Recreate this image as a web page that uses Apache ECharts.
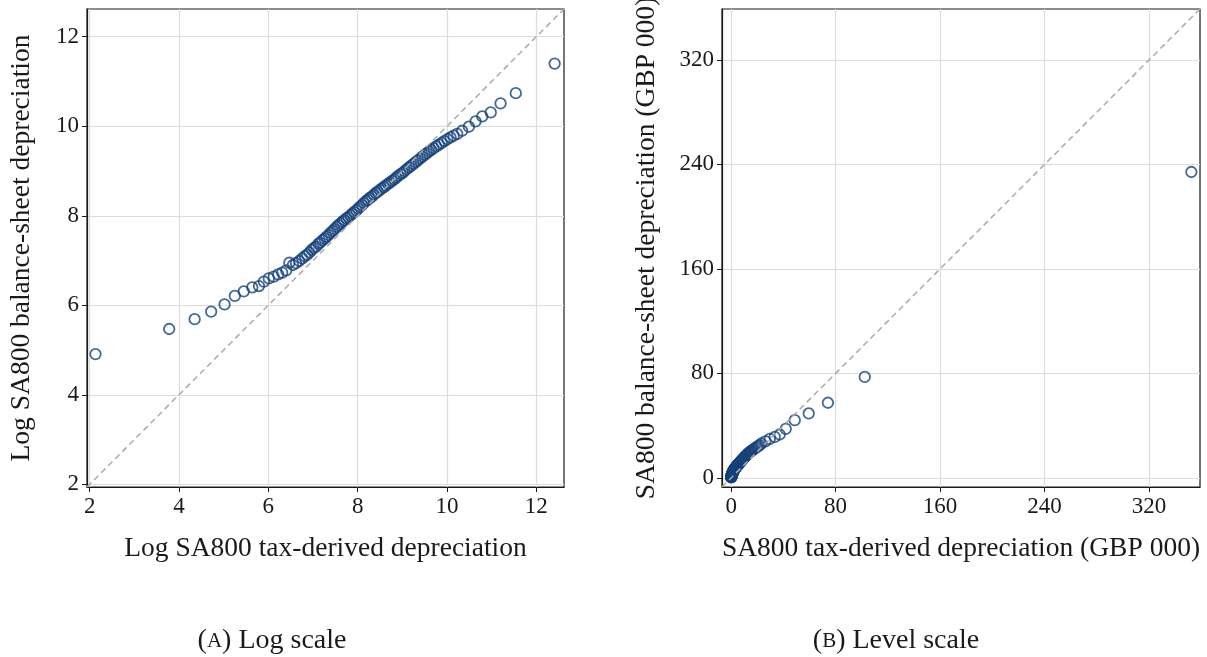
<!DOCTYPE html>
<html>
  <head>
    <meta charset="utf-8" />
    <title>SA800 depreciation</title>
    <script src="https://cdn.jsdelivr.net/npm/echarts@6.0.0/dist/echarts.min.js"></script>
  </head>
  <body style="margin:0;background:#fff;">
    <div id="main" style="width:1207px;height:657px;"></div>

    <script type="text/javascript">
      // Panel A: log tax-derived vs log balance-sheet depreciation
      var logTax = [
        2.13, 3.78, 4.35, 4.72, 5.02, 5.25, 5.45, 5.64, 5.79, 5.90,
        6.01, 6.12, 6.22, 6.31, 6.40, 6.47, 6.55, 6.62, 6.69, 6.76,
        6.82, 6.87, 6.92, 6.97, 7.02, 7.07, 7.12, 7.16, 7.21, 7.26,
        7.30, 7.35, 7.39, 7.44, 7.48, 7.53, 7.57, 7.62, 7.66, 7.70,
        7.75, 7.79, 7.84, 7.88, 7.92, 7.97, 8.01, 8.05, 8.10, 8.14,
        8.19, 8.23, 8.27, 8.32, 8.36, 8.41, 8.45, 8.50, 8.54, 8.59,
        8.63, 8.68, 8.72, 8.77, 8.82, 8.86, 8.91, 8.96, 9.01, 9.05,
        9.10, 9.15, 9.20, 9.25, 9.30, 9.35, 9.40, 9.45, 9.50, 9.55,
        9.60, 9.65, 9.70, 9.76, 9.82, 9.88, 9.94, 10.01, 10.08, 10.15,
        10.23, 10.34, 10.49, 10.64, 10.79, 10.98, 11.20, 11.54, 12.41
      ];
      var logBal = [
        4.91, 5.47, 5.69, 5.86, 6.02, 6.21, 6.31, 6.40, 6.43, 6.53,
        6.60, 6.64, 6.69, 6.73, 6.78, 6.95, 6.90, 6.94, 6.99, 7.05,
        7.10, 7.13, 7.18, 7.24, 7.28, 7.31, 7.37, 7.40, 7.45, 7.49,
        7.53, 7.57, 7.62, 7.66, 7.70, 7.75, 7.79, 7.83, 7.87, 7.90,
        7.94, 7.97, 8.01, 8.05, 8.08, 8.12, 8.16, 8.20, 8.24, 8.29,
        8.33, 8.36, 8.40, 8.43, 8.47, 8.51, 8.54, 8.58, 8.61, 8.64,
        8.68, 8.71, 8.74, 8.78, 8.81, 8.85, 8.89, 8.93, 8.96, 9.00,
        9.04, 9.08, 9.12, 9.16, 9.20, 9.24, 9.28, 9.32, 9.36, 9.40,
        9.44, 9.47, 9.51, 9.55, 9.59, 9.63, 9.67, 9.71, 9.75, 9.79,
        9.83, 9.90, 9.99, 10.11, 10.22, 10.31, 10.51, 10.74, 11.40
      ];

      // Panel B: levels, GBP 000
      var lvlTax = [
        0.008, 0.044, 0.077, 0.112, 0.151, 0.19, 0.23, 0.28, 0.33, 0.37,
        0.41, 0.45, 0.50, 0.55, 0.60, 0.65, 0.70, 0.75, 0.80, 0.86,
        0.92, 0.96, 1.01, 1.06, 1.12, 1.18, 1.24, 1.29, 1.35, 1.42,
        1.48, 1.56, 1.62, 1.70, 1.77, 1.86, 1.94, 2.04, 2.12, 2.21,
        2.32, 2.42, 2.54, 2.65, 2.75, 2.89, 3.01, 3.13, 3.30, 3.43,
        3.61, 3.75, 3.91, 4.11, 4.28, 4.50, 4.68, 4.91, 5.12, 5.38,
        5.60, 5.88, 6.13, 6.44, 6.77, 7.05, 7.41, 7.79, 8.19, 8.52,
        8.96, 9.42, 9.90, 10.4, 10.9, 11.5, 12.1, 12.7, 13.4, 14.0,
        14.8, 15.5, 16.3, 17.3, 18.4, 19.5, 20.7, 21.8, 23.2, 26.3,
        29.6, 33.4, 37.2, 41.8, 48.7, 59.4, 74.1, 102.3, 352.4
      ];
      var lvlBal = [
        0.3, 0.5, 0.7, 0.8, 1.0, 1.1, 1.3, 1.4, 1.5, 1.7,
        1.8, 1.9, 2.1, 2.2, 2.4, 2.6, 2.7, 2.9, 3.0, 3.2,
        3.3, 3.4, 3.6, 3.7, 3.9, 4.0, 4.2, 4.3, 4.5, 4.6,
        4.8, 4.9, 5.0, 5.2, 5.3, 5.5, 5.6, 5.8, 5.9, 6.1,
        6.3, 6.4, 6.6, 6.8, 6.9, 7.1, 7.3, 7.5, 7.7, 7.9,
        8.1, 8.3, 8.5, 8.8, 9.0, 9.2, 9.4, 9.7, 9.9, 10.2,
        10.5, 10.8, 11.1, 11.5, 11.9, 12.2, 12.6, 13.1, 13.5, 13.9,
        14.4, 14.9, 15.4, 16.0, 16.5, 17.1, 17.7, 18.3, 18.9, 19.5,
        20.1, 20.7, 21.3, 22.0, 22.8, 23.6, 24.3, 25.0, 26.3, 28.0,
        29.9, 31.4, 33.2, 37.5, 44.2, 49.3, 57.5, 77.3, 234.2
      ];

      var logTicks = [2, 4, 6, 8, 10, 12];
      var lvlTicks = [0, 80, 160, 240, 320];
      var logRange = [1.94, 12.62];
      var lvlRange = [-7, 359];

      var serif = 'Liberation Serif';
      var ink = '#1a1a1a';
      var dotColor = '#17427a';

      function pairs(xs, ys) {
        var out = [];
        for (var i = 0; i < xs.length; i++) out.push([xs[i], ys[i]]);
        return out;
      }

      function makeAxis(idx, range, ticks, name, gap) {
        return {
          type: 'value',
          gridIndex: idx,
          min: range[0],
          max: range[1],
          name: name,
          nameLocation: 'middle',
          nameGap: gap,
          nameTextStyle: { fontFamily: serif, fontSize: 27.5, color: ink },
          axisLine: { show: true, onZero: false, lineStyle: { color: ink, width: 1.2 } },
          axisTick: { show: true, length: 5, customValues: ticks, lineStyle: { color: ink } },
          axisLabel: {
            customValues: ticks,
            fontFamily: serif,
            fontSize: 23,
            color: ink,
            margin: 8
          },
          splitLine: { show: true, lineStyle: { color: '#dcdcdc', width: 1.2 } }
        };
      }

      var captionStyle = {
        fontFamily: serif, fontSize: 28, fontWeight: 'normal', color: ink,
        rich: { sc: { fontFamily: serif, fontSize: 21, color: ink } }
      };

      var option = {
        animation: false,
        backgroundColor: '#fff',
        title: [
          { text: '({sc|A}) Log scale', left: 267, top: 622, textAlign: 'center', textStyle: captionStyle },
          { text: '({sc|B}) Level scale', left: 891, top: 622, textAlign: 'center', textStyle: captionStyle }
        ],
        grid: [
          { left: 87, top: 9, width: 477, height: 478, outerBoundsMode: 'none', show: true, borderColor: ink, borderWidth: 1.2 },
          { left: 722, top: 9, width: 478, height: 478, outerBoundsMode: 'none', show: true, borderColor: ink, borderWidth: 1.2 }
        ],
        xAxis: [
          makeAxis(0, logRange, logTicks, 'Log SA800 tax-derived depreciation', 48),
          makeAxis(1, lvlRange, lvlTicks, 'SA800 tax-derived depreciation (GBP 000)', 48)
        ],
        yAxis: [
          makeAxis(0, logRange, logTicks, 'Log SA800 balance-sheet depreciation', 51),
          makeAxis(1, lvlRange, lvlTicks, 'SA800 balance-sheet depreciation (GBP 000)', 61)
        ],
        series: [
          {
            type: 'line',
            xAxisIndex: 0,
            yAxisIndex: 0,
            symbol: 'none',
            silent: true,
            lineStyle: { color: '#aaaaaa', width: 1.5, type: [6, 4] },
            data: [[logRange[0], logRange[0]], [logRange[1], logRange[1]]]
          },
          {
            type: 'line',
            xAxisIndex: 1,
            yAxisIndex: 1,
            symbol: 'none',
            silent: true,
            lineStyle: { color: '#aaaaaa', width: 1.5, type: [6, 4] },
            data: [[lvlRange[0], lvlRange[0]], [lvlRange[1], lvlRange[1]]]
          },
          {
            type: 'scatter',
            xAxisIndex: 0,
            yAxisIndex: 0,
            symbol: 'circle',
            symbolSize: 10.5,
            itemStyle: { color: 'rgba(255,255,255,0)', borderColor: dotColor, borderWidth: 1.8 },
            data: pairs(logTax, logBal)
          },
          {
            type: 'scatter',
            xAxisIndex: 1,
            yAxisIndex: 1,
            symbol: 'circle',
            symbolSize: 10.5,
            itemStyle: { color: 'rgba(255,255,255,0)', borderColor: dotColor, borderWidth: 1.8 },
            data: pairs(lvlTax, lvlBal)
          }
        ]
      };

      var chart = echarts.init(document.getElementById('main'));
      chart.setOption(option);
    </script>
  </body>
</html>
